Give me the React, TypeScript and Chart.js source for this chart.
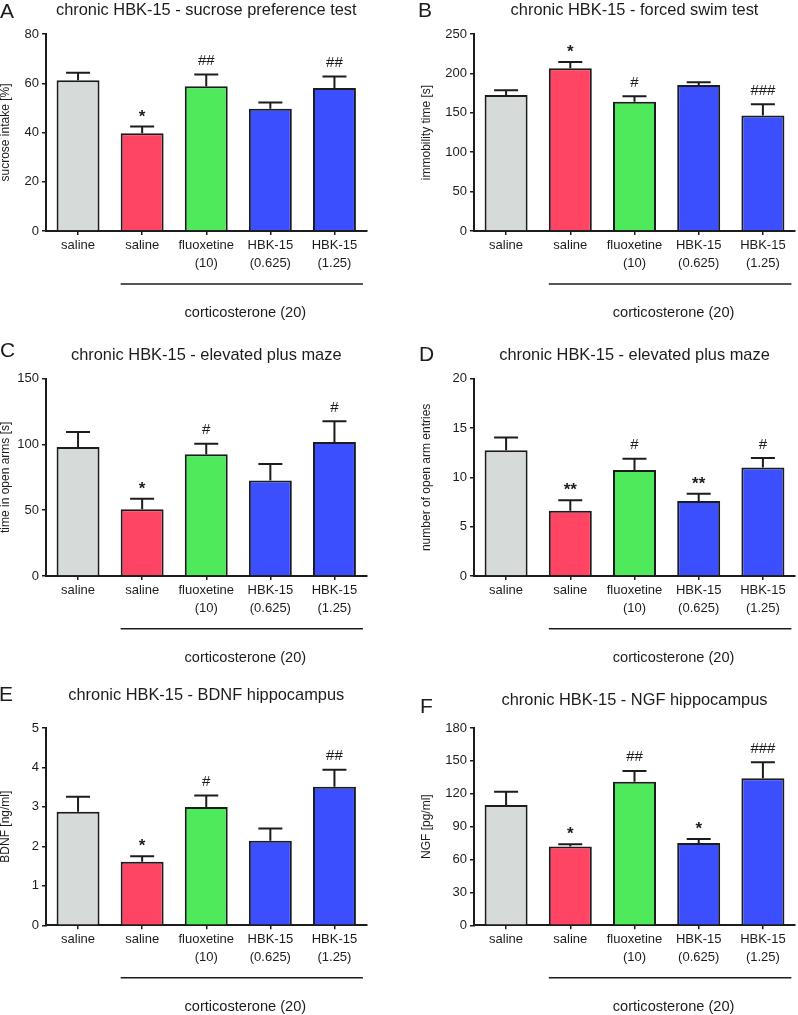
import React, { useEffect, useRef } from "react";
import { Chart, registerables } from "chart.js";

Chart.register(...registerables);

// ---------- data ----------
const categories: string[][] = [
  ["saline"],
  ["saline"],
  ["fluoxetine", "(10)"],
  ["HBK-15", "(0.625)"],
  ["HBK-15", "(1.25)"],
];
const groupLabel = "corticosterone (20)";

const sucroseMean = [61.2, 39.7, 58.8, 49.6, 58.1];
const sucroseSem = [3.1, 2.7, 4.8, 2.6, 4.6];
const sucroseSig = ["", "*", "##", "", "##"];
const sucroseTicks = [0, 20, 40, 60, 80];

const swimMean = [172.7, 206.5, 163.9, 185.4, 146.5];
const swimSem = [5.9, 8.0, 7.1, 3.4, 14.4];
const swimSig = ["", "*", "#", "", "###"];
const swimTicks = [0, 50, 100, 150, 200, 250];

const epmTimeMean = [98.0, 50.7, 92.5, 72.7, 101.9];
const epmTimeSem = [11.5, 8.1, 8.1, 12.4, 15.7];
const epmTimeSig = ["", "*", "#", "", "#"];
const epmTimeTicks = [0, 50, 100, 150];

const epmEntriesMean = [12.74, 6.62, 10.74, 7.6, 11.01];
const epmEntriesSem = [1.31, 1.05, 1.15, 0.74, 0.95];
const epmEntriesSig = ["", "**", "#", "**", "#"];
const epmEntriesTicks = [0, 5, 10, 15, 20];

const bdnfMean = [2.88, 1.61, 3.0, 2.14, 3.51];
const bdnfSem = [0.38, 0.14, 0.29, 0.31, 0.43];
const bdnfSig = ["", "*", "#", "", "##"];
const bdnfTicks = [0, 1, 2, 3, 4, 5];

const ngfMean = [109.8, 71.8, 131.0, 75.1, 134.1];
const ngfSem = [12.1, 2.1, 9.8, 3.6, 14.6];
const ngfSig = ["", "*", "##", "*", "###"];
const ngfTicks = [0, 30, 60, 90, 120, 150, 180];

// ---------- styles ----------
const barColors = ["#d6dbda", "#ff4563", "#4eea5c", "#3c4fff", "#3c4fff"];
const FONT = "'Liberation Sans', Arial, Helvetica, sans-serif";
const INK = "#1c1c1c";

type PanelCfg = {
  left: number; top: number; width: number; height: number;
  letter: string; letterX: number; letterY: number;
  title: string; titleY: number;
  yLabel: string; yLabelX: number;
  mean: number[]; sem: number[]; sig: string[]; ticks: number[];
  plotTop: number; plotBottom: number; axisX: number; plotRight: number;
  lineY: number; textY: number;
};

const panels: PanelCfg[] = [
  {
    left: 0, top: 0, width: 400, height: 340, letter: "A", letterX: 0, letterY: 18,
    title: "chronic HBK-15 - sucrose preference test", titleY: 10,
    yLabel: "sucrose intake [%]", yLabelX: 6,
    mean: sucroseMean, sem: sucroseSem, sig: sucroseSig, ticks: sucroseTicks,
    plotTop: 34, plotBottom: 231, axisX: 46, plotRight: 366.5, lineY: 284, textY: 313,
  },
  {
    left: 400, top: 0, width: 398, height: 340, letter: "B", letterX: 18, letterY: 17,
    title: "chronic HBK-15 - forced swim test", titleY: 10,
    yLabel: "immobility time [s]", yLabelX: 26.7,
    mean: swimMean, sem: swimSem, sig: swimSig, ticks: swimTicks,
    plotTop: 34, plotBottom: 231, axisX: 74, plotRight: 395, lineY: 284, textY: 313,
  },
  {
    left: 0, top: 340, width: 400, height: 340, letter: "C", letterX: 0, letterY: 17,
    title: "chronic HBK-15 - elevated plus maze", titleY: 15,
    yLabel: "time in open arms [s]", yLabelX: 5.5,
    mean: epmTimeMean, sem: epmTimeSem, sig: epmTimeSig, ticks: epmTimeTicks,
    plotTop: 38.7, plotBottom: 236, axisX: 46, plotRight: 366.5, lineY: 288.7, textY: 318,
  },
  {
    left: 400, top: 340, width: 398, height: 340, letter: "D", letterX: 19, letterY: 21,
    title: "chronic HBK-15 - elevated plus maze", titleY: 15,
    yLabel: "number of open arm entries", yLabelX: 26.7,
    mean: epmEntriesMean, sem: epmEntriesSem, sig: epmEntriesSig, ticks: epmEntriesTicks,
    plotTop: 38.7, plotBottom: 236, axisX: 74, plotRight: 395, lineY: 288.7, textY: 318,
  },
  {
    left: 0, top: 680, width: 400, height: 335, letter: "E", letterX: -1, letterY: 21,
    title: "chronic HBK-15 - BDNF hippocampus", titleY: 15,
    yLabel: "BDNF [ng/ml]", yLabelX: 5,
    mean: bdnfMean, sem: bdnfSem, sig: bdnfSig, ticks: bdnfTicks,
    plotTop: 48, plotBottom: 245.3, axisX: 46, plotRight: 366.5, lineY: 297.7, textY: 326.7,
  },
  {
    left: 400, top: 680, width: 398, height: 335, letter: "F", letterX: 20, letterY: 33,
    title: "chronic HBK-15 - NGF hippocampus", titleY: 20.5,
    yLabel: "NGF [pg/ml]", yLabelX: 26.7,
    mean: ngfMean, sem: ngfSem, sig: ngfSig, ticks: ngfTicks,
    plotTop: 48, plotBottom: 245.3, axisX: 74, plotRight: 395, lineY: 297.7, textY: 327,
  },
];

function Panel({ cfg }: { cfg: PanelCfg }) {
  const ref = useRef<HTMLCanvasElement | null>(null);

  useEffect(() => {
    if (!ref.current) return;
    const yMax = cfg.ticks[cfg.ticks.length - 1];
    const yStep = cfg.ticks[1] - cfg.ticks[0];

    const overlay = {
      id: "overlay",
      afterDatasetsDraw(chart: any) {
        const ctx = chart.ctx as CanvasRenderingContext2D;
        const meta = chart.getDatasetMeta(0);
        const ys = chart.scales.y;
        const area = chart.chartArea;
        ctx.save();
        // error bars + significance marks
        meta.data.forEach((bar: any, i: number) => {
          const x = bar.x;
          const yTop = bar.y;
          const yErr = ys.getPixelForValue(cfg.mean[i] + cfg.sem[i]);
          ctx.strokeStyle = INK;
          ctx.lineWidth = 2;
          ctx.beginPath();
          ctx.moveTo(x, yTop);
          ctx.lineTo(x, yErr);
          ctx.moveTo(x - 12, yErr);
          ctx.lineTo(x + 12, yErr);
          ctx.stroke();
          const s = cfg.sig[i];
          if (s) {
            ctx.fillStyle = INK;
            ctx.textAlign = "center";
            ctx.textBaseline = "alphabetic";
            if (s.includes("*")) {
              ctx.font = `bold 17px ${FONT}`;
              ctx.fillText(s, x, yErr - 5);
            } else {
              ctx.font = `15px ${FONT}`;
              ctx.fillText(s, x, yErr - 9.5);
            }
          }
        });
        // bracket line for corticosterone groups
        const b1: any = meta.data[1];
        const b4: any = meta.data[4];
        const x0 = b1.x - b1.width / 2;
        const x1 = b4.x + b4.width / 2 + 7;
        ctx.strokeStyle = INK;
        ctx.lineWidth = 1.5;
        ctx.beginPath();
        ctx.moveTo(x0, cfg.lineY);
        ctx.lineTo(x1, cfg.lineY);
        ctx.stroke();
        ctx.fillStyle = INK;
        ctx.font = `14.6px ${FONT}`;
        ctx.textAlign = "center";
        ctx.textBaseline = "middle";
        ctx.fillText(groupLabel, (x0 + x1) / 2 + 3.5, cfg.textY);
        // title
        ctx.font = `16.4px ${FONT}`;
        ctx.fillText(cfg.title, (area.left + area.right) / 2, cfg.titleY);
        // panel letter
        ctx.font = `21px ${FONT}`;
        ctx.textAlign = "left";
        ctx.textBaseline = "alphabetic";
        ctx.fillText(cfg.letter, cfg.letterX, cfg.letterY);
        ctx.restore();
      },
    };

    const chart = new Chart(ref.current, {
      type: "bar",
      data: {
        labels: categories,
        datasets: [
          {
            data: cfg.mean,
            backgroundColor: barColors,
            borderColor: INK,
            borderWidth: 2,
            borderSkipped: "bottom",
            categoryPercentage: 1,
            barPercentage: 0.67,
          },
        ],
      },
      options: {
        responsive: false,
        animation: false,
        devicePixelRatio: 1,
        layout: {
          padding: {
            top: cfg.plotTop,
            left: 0,
            right: cfg.width - cfg.plotRight,
            bottom: 0,
          },
        },
        plugins: {
          legend: { display: false },
          tooltip: { enabled: false },
          title: { display: false },
        },
        scales: {
          x: {
            afterFit: (scale: any) => {
              scale.height = cfg.height - cfg.plotBottom;
            },
            grid: {
              display: true,
              drawOnChartArea: false,
              drawTicks: true,
              tickLength: 4,
              offset: false,
              color: INK,
              lineWidth: 1.5,
            },
            border: { display: true, color: INK, width: 2 },
            ticks: {
              color: INK,
              padding: 1,
              maxRotation: 0,
              autoSkip: false,
              font: { family: FONT, size: 13, lineHeight: 1.4 },
            },
          },
          y: {
            min: 0,
            max: yMax,
            afterFit: (scale: any) => {
              scale.width = cfg.axisX;
            },
            ticks: {
              stepSize: yStep,
              color: INK,
              padding: 3,
              font: { family: FONT, size: 13 },
            },
            grid: {
              display: true,
              drawOnChartArea: false,
              drawTicks: true,
              tickLength: 4,
              color: INK,
              lineWidth: 1.5,
            },
            border: { display: true, color: INK, width: 2 },
            title: {
              display: true,
              text: cfg.yLabel,
              color: INK,
              font: { family: FONT, size: 12, lineHeight: 1 },
              padding: { top: Math.max(cfg.yLabelX - 6, 0), bottom: 0 },
            },
          },
        },
      },
      plugins: [overlay],
    } as any);

    return () => chart.destroy();
  }, [cfg]);

  return (
    <canvas
      ref={ref}
      width={cfg.width}
      height={cfg.height}
      style={{
        position: "absolute",
        left: cfg.left,
        top: cfg.top,
        width: cfg.width,
        height: cfg.height,
      }}
    />
  );
}

export default function App() {
  return (
    <div
      style={{
        position: "absolute",
        left: 0,
        top: 0,
        width: 798,
        height: 1015,
        background: "#ffffff",
        overflow: "hidden",
      }}
    >
      {panels.map((p, i) => (
        <Panel key={i} cfg={p} />
      ))}
    </div>
  );
}
